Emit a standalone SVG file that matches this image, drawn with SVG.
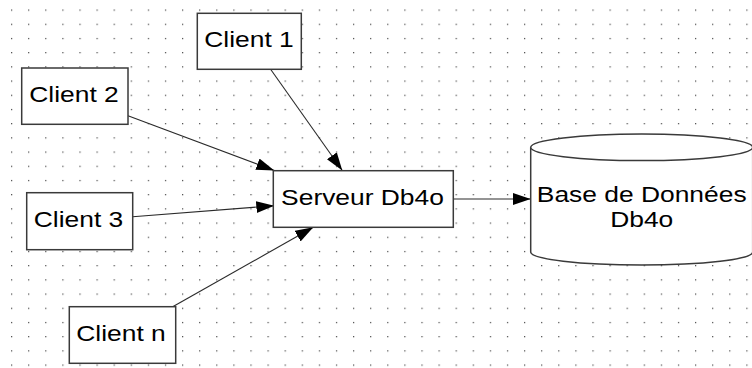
<svg xmlns="http://www.w3.org/2000/svg" width="752" height="368" viewBox="0 0 752 368">
<defs>
<pattern id="grid" patternUnits="userSpaceOnUse" x="11" y="9.5" width="17.1" height="14.2">
<rect x="0" y="0" width="1.2" height="1.2" fill="#444"/>
</pattern>
<marker id="arr" markerUnits="userSpaceOnUse" markerWidth="19" markerHeight="13" refX="18" refY="6" orient="auto">
<path d="M0,0 L18,6 L0,12 Z" fill="#000"/>
</marker>
<style>
.box{fill:#fff;stroke:#3a3a3a;stroke-width:1.5}
.lbl{font-family:"Liberation Sans",Arial,sans-serif;font-size:22px;fill:#000;text-anchor:middle}
.conn{stroke:#2a2a2a;stroke-width:1.1;fill:none;marker-end:url(#arr)}
</style>
</defs>
<rect width="752" height="368" fill="#fff"/>
<rect width="752" height="368" fill="url(#grid)"/>
<g id="connectors">
<line class="conn" x1="270.6" y1="69.3" x2="342.3" y2="170.5"/>
<line class="conn" x1="128" y1="115.7" x2="274.3" y2="170.5"/>
<line class="conn" x1="132.7" y1="216.7" x2="274.3" y2="205.7"/>
<line class="conn" x1="172.7" y1="306.7" x2="313.3" y2="227.3"/>
<line class="conn" x1="453.3" y1="199" x2="530.7" y2="199"/>
</g>
<g id="client1">
<rect class="box" x="197.3" y="13.3" width="104" height="56"/>
<text class="lbl" transform="translate(249,46.7) scale(1.2,1)">Client 1</text>
</g>
<g id="client2">
<rect class="box" x="21.7" y="68" width="106.3" height="56.3"/>
<text class="lbl" transform="translate(74,101.7) scale(1.2,1)">Client 2</text>
</g>
<g id="client3">
<rect class="box" x="26.7" y="192.7" width="106" height="57"/>
<text class="lbl" transform="translate(78.5,226.7) scale(1.2,1)">Client 3</text>
</g>
<g id="clientn">
<rect class="box" x="69.3" y="306.7" width="106.4" height="56.6"/>
<text class="lbl" transform="translate(121,340.7) scale(1.2,1)">Client n</text>
</g>
<g id="serveur">
<rect class="box" x="273.3" y="170.7" width="180" height="56.6"/>
<text class="lbl" transform="translate(362.5,205) scale(1.2,1)">Serveur Db4o</text>
</g>
<g id="database">
<path class="box" d="M530.7,147.3 V252 A111,13 0 0,0 752.7,252 V147.3"/>
<ellipse class="box" cx="641.7" cy="147.3" rx="111" ry="13.3"/>
<text class="lbl" transform="translate(641.7,202.3) scale(1.2,1)">Base de Données</text>
<text class="lbl" transform="translate(641.7,227.3) scale(1.2,1)">Db4o</text>
</g>
</svg>
